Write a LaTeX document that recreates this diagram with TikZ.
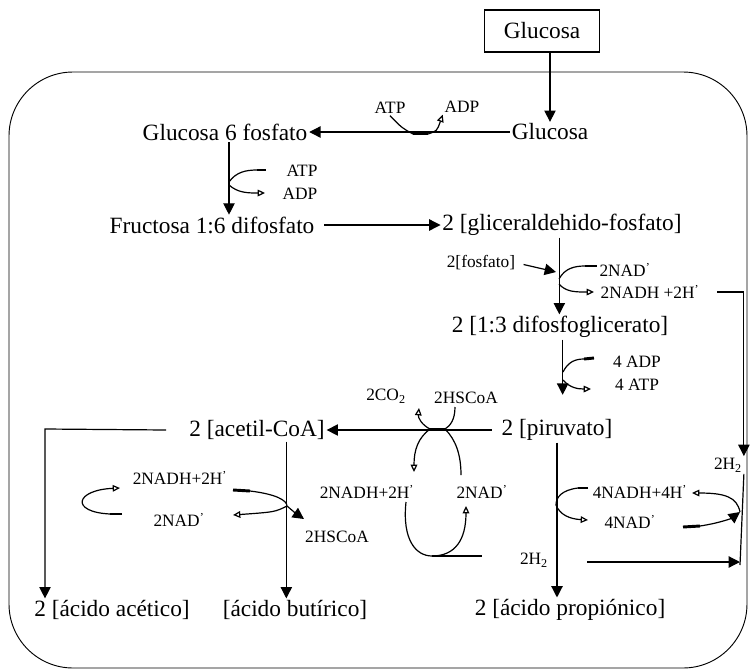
\documentclass[tikz,border=0pt]{standalone}
\usepackage{fontspec}
\setmainfont{Liberation Serif}
\usetikzlibrary{arrows.meta,calc}

\tikzset{
  every node/.style={inner sep=1pt},
  main/.style={font=\fontsize{17.5}{20}\selectfont},
  lbl/.style={font=\fontsize{13}{15}\selectfont},
  flow/.style={-{Triangle[length=8.5pt,width=8.5pt]}},
  gain/.style={-{Triangle[open,length=5.5pt,width=5pt]}},
  cof/.style={line width=2.2pt},
}
\newcommand{\plus}{\textsuperscript{'}}

\begin{document}
\begin{tikzpicture}[x=0.75pt,y=-0.75pt,line width=0.9pt]
\useasboundingbox (0,0) rectangle (751,669);
% cell
\draw[line width=0.7pt,rounded corners=48pt] (9,72) rectangle (747,668);

% compounds
\node[draw,minimum width=86pt,minimum height=31.5pt,main] (src) at (542,31) {Glucosa};
\node[main] (glc) at (550,132) {Glucosa};
\node[main] (g6p) at (225,132) {Glucosa 6 fosfato};
\node[main] (f16) at (212,225) {Fructosa 1:6 difosfato};
\node[main] (gap) at (562,225) {2 [gliceraldehido-fosfato]};
\node[main] (bpg) at (560,327) {2 [1:3 difosfoglicerato]};
\node[main] (pyr) at (557,430) {2 [piruvato]};
\node[main] (aca) at (257,430) {2 [acetil-CoA]};
\node[main] (ace) at (112,610) {2 [ácido acético]};
\node[main] (but) at (295,610) {[ácido butírico]};
\node[main] (pro) at (570,610) {2 [ácido propiónico]};

% cofactors
\node[lbl] (atpA) at (390,108) {ATP};
\node[lbl] (adpA) at (462,107) {ADP};
\node[lbl] (atpB) at (302,171) {ATP};
\node[lbl] (adpB) at (300,194) {ADP};
\node[lbl] (fos) at (481,263) {2[fosfato]};
\node[lbl] (nadA) at (625,270) {2NAD\plus};
\node[lbl] (nadhA) at (650,292) {2NADH +2H\plus};
\node[lbl] (adp4) at (637,362) {4 ADP};
\node[lbl] (atp4) at (637,385) {4 ATP};
\node[lbl] (co2) at (386,396) {2CO\textsubscript{2}};
\node[lbl] (hscA) at (466,398) {2HSCoA};
\node[lbl] (nadhB) at (367,492) {2NADH+2H\plus};
\node[lbl] (nadB) at (482,492) {2NAD\plus};
\node[lbl] (nadhC) at (180,478) {2NADH+2H\plus};
\node[lbl] (nadC) at (179,520) {2NAD\plus};
\node[lbl] (hscB) at (337,537) {2HSCoA};
\node[lbl] (nadh4) at (640,492) {4NADH+4H\plus};
\node[lbl] (nad4) at (630,522) {4NAD\plus};
\node[lbl] (h2a) at (728,465) {2H\textsubscript{2}};
\node[lbl] (h2b) at (534,560) {2H\textsubscript{2}};

% junctions
\coordinate (b1) at (413,134);
\coordinate (b2) at (428,134);
\coordinate (k1) at (430,429);
\coordinate (k2) at (445,429);
\coordinate (l1) at (432,556);
\coordinate (aL) at (45,429);
\coordinate (jC) at (287,506);
\coordinate (jP) at (556,505);
\coordinate (r0) at (587,562);
\coordinate (r1) at (740,565);

% glycolysis
\draw[flow] (src.south -| glc) -- (glc.north);
\draw[flow] (glc.west) -- (g6p.east);
\draw (atpA.south) .. controls (402,128) .. (b1);
\draw[cof] (b1) -- (b2);
\draw[gain] (b2) .. controls (437,131) .. (adpA.south west);

\draw[flow] ([xshift=3pt]g6p.south) -- ([xshift=3pt]g6p.south |- f16.north);
\draw (229,182) .. controls (236,172) and (246,170) .. (257,170);
\draw[cof] (257,170) -- (266,170);
\draw[gain] (229,185) .. controls (238,193) and (248,193) .. (265,193);

\draw[flow,shorten <=6pt] (f16.east) -- (gap.west);
\draw[flow] ([xshift=-2pt]gap.south) -- ([xshift=-2pt]gap.south |- bpg.north);
\draw[flow,shorten <=5pt] (fos.east) -- (556,272);
\draw (559,279) .. controls (565,268) and (575,266) .. (585,266);
\draw[cof] (585,266) -- (597,266);
\draw[gain] (559,284) .. controls (566,292) and (575,292) .. (594,292);
\draw[flow,shorten <=12pt] (nadhA.east) -| (h2a.north east);

\draw[flow,shorten >=17pt] ([xshift=2pt]bpg.south) -- ([xshift=2pt]bpg.south |- pyr.north);
\draw (563,372) .. controls (568,362) and (575,359) .. (584,359);
\draw[cof] (584,359) -- (594,358);
\draw[gain] (563,380) .. controls (570,388) and (578,389) .. (591,389);

% piruvato -> acetil-CoA
\draw[flow,shorten <=6pt] (pyr.west) -- (aca.east);
\draw[cof] (k1) -- (k2);
\draw[gain] (k1) .. controls (422,425) and (418,418) .. (419,408);
\draw (455,407) .. controls (455,420) and (450,426) .. (k2);
\draw[gain] (k1) .. controls (418,438) and (414,450) .. (414,472);
\draw (k2) .. controls (456,440) and (461,455) .. (461,475);
\draw[gain] (406,502) .. controls (402,540) and (416,556) .. (l1)
  .. controls (455,556) and (466,540) .. (466,506);
\draw (l1) -- (482,556);

% acetil-CoA
\draw[flow] ([xshift=-16pt]aca.west) -- (aL) -- (aL |- ace.north);
\draw[flow] ([xshift=22pt]aca.south) -- ([xshift=22pt]aca.south |- but.north);
\draw[cof] (233,490) -- (250,491);
\draw[flow] (250,491) .. controls (275,494) and (287,500) .. (jC)
  .. controls (291,510) .. (304,519);
\draw[gain] (jC) .. controls (275,512) .. (233,515);
\draw[cof] (122,514) -- (110,514);
\draw[gain] (110,514) .. controls (70,512) and (75,490) .. (120,488);

% piruvato -> propionico
\draw[flow] (pyr.south) -- (pyr.south |- pro.north);
\draw[cof] (588,488) -- (578,488);
\draw[gain] (578,488) .. controls (562,490) and (556,497) .. (jP)
  .. controls (560,515) and (570,519) .. (588,520);
\draw[gain] (740,512) .. controls (737,497) and (725,493) .. (692,493);
\draw[cof] (683,527) -- (700,526);
\draw[flow] (700,526) .. controls (720,523) and (732,518) .. (740,512);
\draw (h2a.south east) -- (r1);
\draw[flow] (r0) -- (r1 |- r0);
\end{tikzpicture}
\end{document}
